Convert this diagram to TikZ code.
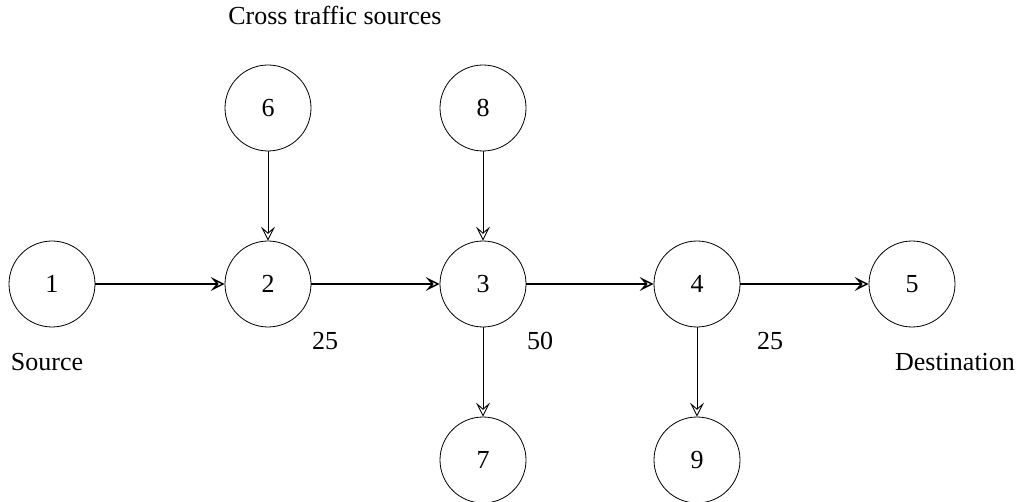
\documentclass[tikz,border=0pt]{standalone}
\usepackage{fontspec}
\setmainfont{Liberation Serif}
\usetikzlibrary{arrows.meta}
\begin{document}
\begin{tikzpicture}[x=0.5pt,y=-0.5pt,
  nd/.style={draw,circle,minimum size=43pt,inner sep=0pt,line width=0.4pt,font=\fontsize{13}{15}\selectfont},
  lbl/.style={font=\fontsize{13}{15}\selectfont,inner sep=0pt},
  mainarr/.style={line width=0.75pt,-{Stealth[open,length=7pt,width=7pt,inset=3pt]}},
  crossarr/.style={line width=0.45pt,-{Stealth[open,length=7pt,width=7pt,inset=3pt]}}]
\useasboundingbox (0,0) rectangle (1018,502);
\node[nd] (n1) at (52,284) {1};
\node[nd] (n2) at (268,284) {2};
\node[nd] (n3) at (483,284) {3};
\node[nd] (n4) at (697,284) {4};
\node[nd] (n5) at (912,284) {5};
\node[nd] (n6) at (268,108) {6};
\node[nd] (n8) at (483,108) {8};
\node[nd] (n7) at (483,460) {7};
\node[nd] (n9) at (697,460) {9};
\draw[mainarr] (n1) -- (n2);
\draw[mainarr] (n2) -- (n3);
\draw[mainarr] (n3) -- (n4);
\draw[mainarr] (n4) -- (n5);
\draw[crossarr] (n6) -- (n2);
\draw[crossarr] (n8) -- (n3);
\draw[crossarr] (n3) -- (n7);
\draw[crossarr] (n4) -- (n9);
\node[lbl] (l1) at (325,341) {25};
\node[lbl] (l2) at (540,341) {50};
\node[lbl] (l3) at (770,341) {25};
\node[lbl] (src) at (47,362) {Source};
\node[lbl] (dst) at (955,362) {Destination};
\node[lbl] (cts) at (335,15) {Cross traffic sources};
\end{tikzpicture}
\end{document}
